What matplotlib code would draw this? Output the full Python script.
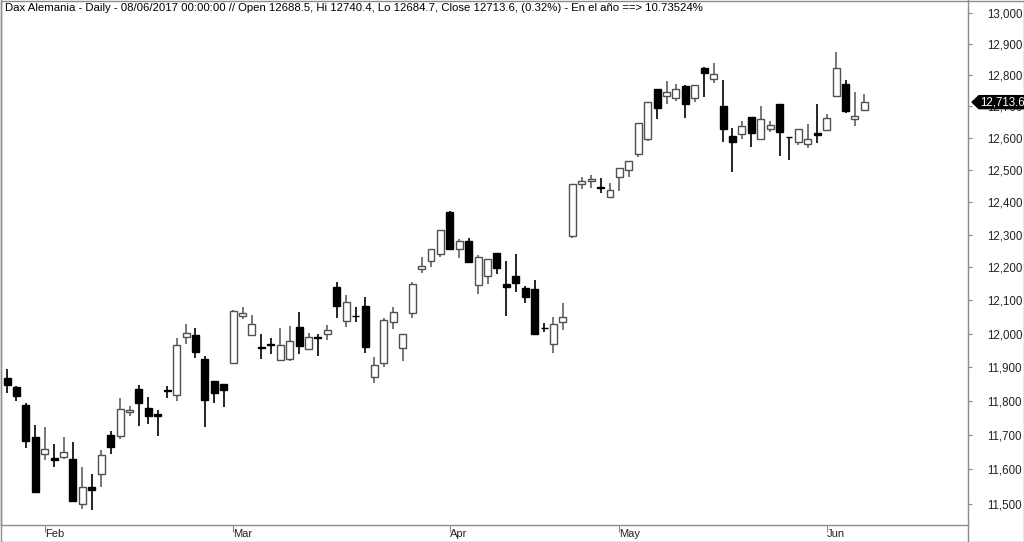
import matplotlib
matplotlib.use("Agg")
import matplotlib.pyplot as plt
from matplotlib.patches import Polygon, Rectangle
from matplotlib.lines import Line2D
from matplotlib.ticker import FixedLocator, FuncFormatter, NullLocator

# Dax daily candles, 26 Jan 2017 .. 08 Jun 2017
opens = [11868, 11842, 11788, 11695, 11646, 11632, 11636, 11630, 11499, 11549,
         11586, 11700, 11698, 11766, 11834, 11779, 11761, 11832, 11817, 11989,
         11995, 11923, 11860, 11849, 11913, 12053, 11996, 11960, 11968, 11921,
         11923, 12020, 11954, 11990, 11999, 12141, 12039, 12054, 12084, 11872,
         11913, 12034, 11958, 12061, 12196, 12219, 12241, 12369, 12255, 12279,
         12146, 12174, 12245, 12148, 12175, 12138, 12135, 12017, 11969, 12034,
         12297, 12457, 12465, 12446, 12417, 12478, 12500, 12549, 12597, 12756,
         12733, 12726, 12766, 12728, 12822, 12788, 12702, 12607, 12613, 12666,
         12596, 12628, 12709, 12605, 12589, 12582, 12615, 12624, 12733, 12771,
         12660, 12688.5]
highs = [11894, 11844, 11793, 11729, 11722, 11673, 11695, 11679, 11606, 11588,
         11656, 11712, 11809, 11785, 11847, 11812, 11773, 11844, 11986, 12029,
         12016, 11933, 11860, 11850, 12071, 12079, 12056, 11998, 11986, 12016,
         12023, 12065, 12001, 11999, 12026, 12155, 12116, 12081, 12109, 11931,
         12046, 12081, 11998, 12155, 12231, 12257, 12314, 12373, 12287, 12291,
         12238, 12225, 12245, 12220, 12241, 12144, 12162, 12031, 12049, 12091,
         12456, 12479, 12484, 12475, 12459, 12507, 12528, 12647, 12715, 12756,
         12781, 12772, 12768, 12769, 12825, 12838, 12784, 12631, 12654, 12666,
         12702, 12654, 12709, 12605, 12628, 12645, 12708, 12676, 12875, 12784,
         12745, 12740.4]
lows = [11823, 11800, 11661, 11533, 11627, 11606, 11630, 11509, 11485, 11482,
        11550, 11646, 11687, 11756, 11727, 11731, 11697, 11808, 11800, 11969,
        11926, 11722, 11795, 11783, 11912, 12043, 11996, 11923, 11939, 11921,
        11918, 11939, 11954, 11933, 11981, 12047, 12021, 12036, 11941, 11852,
        11899, 12013, 11918, 12047, 12182, 12200, 12233, 12255, 12227, 12215,
        12119, 12149, 12179, 12054, 12124, 12091, 11999, 12006, 11943, 12011,
        12291, 12440, 12443, 12429, 12417, 12435, 12479, 12542, 12592, 12661,
        12707, 12717, 12665, 12713, 12729, 12776, 12588, 12494, 12596, 12573,
        12594, 12620, 12545, 12530, 12578, 12569, 12586, 12624, 12733, 12680,
        12639, 12684.7]
closes = [11847, 11814, 11682, 11534, 11658, 11627, 11651, 11510, 11550, 11541,
          11642, 11666, 11776, 11773, 11795, 11757, 11757, 11829, 11966, 12001,
          11946, 11803, 11822, 11832, 12068, 12061, 12029, 11957, 11966, 11966,
          11978, 11964, 11989, 11988, 12011, 12083, 12096, 12052, 11961, 11906,
          12041, 12064, 11998, 12150, 12204, 12257, 12314, 12255, 12282, 12215,
          12231, 12225, 12199, 12139, 12153, 12109, 11999, 12016, 12028, 12049,
          12456, 12467, 12473, 12443, 12438, 12507, 12528, 12647, 12715, 12694,
          12747, 12756, 12708, 12769, 12807, 12803, 12628, 12589, 12638, 12617,
          12660, 12642, 12620, 12602, 12628, 12597, 12611, 12665, 12822, 12686,
          12671, 12713.6]

month_labels = ["Feb", "Mar", "Apr", "May", "Jun"]
month_starts = [4, 24, 47, 65, 87]   # candle index of first session of each month
price_ticks = list(range(11500, 13001, 100))

title = ("Dax Alemania - Daily - 08/06/2017 00:00:00 // Open 12688.5, Hi 12740.4, "
         "Lo 12684.7, Close 12713.6, (0.32%) - En el año ==> 10.73524%")

plt.rcParams["font.family"] = ["Liberation Sans", "DejaVu Sans"]

W, H = 1024, 542
fig = plt.figure(figsize=(W / 100, H / 100), dpi=100)
ax = fig.add_axes([1 / W, (H - 525) / H, 967 / W, 525 / H])

up_edge = "#505050"
up_wick = "#606060"
width = 0.74

for i, (o, h, l, c) in enumerate(zip(opens, highs, lows, closes)):
    up = c >= o
    ax.vlines(i, l, h, color=up_wick if up else "black", linewidth=1.2, zorder=1)
    ax.bar(i, abs(c - o), bottom=min(o, c), width=width,
           facecolor="white" if up else "black",
           edgecolor=up_edge if up else "black", linewidth=1.0, zorder=2)

ax.set_yscale("log")
ax.set_ylim(11440, 13042)
ax.set_xlim(-0.64, 102.0)

ax.yaxis.tick_right()
ax.yaxis.set_major_locator(FixedLocator(price_ticks))
ax.yaxis.set_minor_locator(NullLocator())
ax.yaxis.set_major_formatter(FuncFormatter(lambda v, p: f"{v:,.0f}"))
ax.tick_params(axis="y", which="major", length=3, width=0.8, color="#888888",
               labelsize=8.3, labelcolor="#222222", pad=10.5)

ax.set_xticks(month_starts)
ax.set_xticklabels(month_labels)
ax.tick_params(axis="x", length=5, width=0.8, color="#888888", labelsize=8,
               labelcolor="#222222", pad=-2)
for lab in ax.get_xticklabels():
    lab.set_horizontalalignment("left")

for side in ["left", "bottom", "right"]:
    ax.spines[side].set_color("#8c8c8c")
    ax.spines[side].set_linewidth(1.0)
ax.spines["top"].set_visible(False)

ax.text(0.004, 0.995, title, transform=ax.transAxes, fontsize=8.2, color="black",
        ha="left", va="top")

# outer frame and the divider that runs through the date strip
fig.patches.append(Rectangle((0.5 / W, 0.5 / H), (W - 1) / W, (H - 1) / H,
                             transform=fig.transFigure, fill=False,
                             edgecolor="#8c8c8c", linewidth=1.0))
fig.lines.append(Line2D([968 / W, 968 / W], [0, (H - 525) / H],
                        transform=fig.transFigure, color="#8c8c8c", linewidth=1.0))

# last price tag
last = closes[-1]
yd = ax.transData.transform((0, last))[1] / H
hh = 6.5 / H
x0, x1, x2 = 972 / W, 979 / W, 1.0
fig.patches.append(Polygon([(x0, yd), (x1, yd + hh), (x2, yd + hh), (x2, yd - hh), (x1, yd - hh)],
                           closed=True, transform=fig.transFigure,
                           facecolor="black", edgecolor="black", zorder=5))
fig.text(980 / W, yd, f"{last:,.1f}", color="white", fontsize=8.3, ha="left",
         va="center", zorder=6)

fig.savefig("out.png", dpi=100)
